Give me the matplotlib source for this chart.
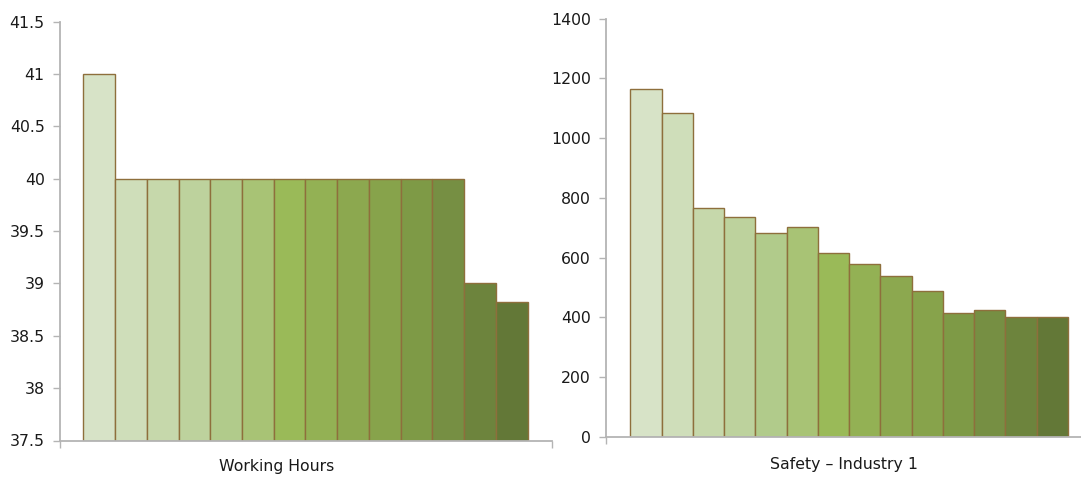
import matplotlib
matplotlib.use("Agg")
import matplotlib.pyplot as plt
import numpy as np

# Working hours per category (14 bars)
hours = [41, 40, 40, 40, 40, 40, 40, 40, 40, 40, 40, 40, 39, 38.82]
hours_ticks = [37.5, 38, 38.5, 39, 39.5, 40, 40.5, 41, 41.5]

# Safety incidents, industry 1 (14 bars)
safety = [1163, 1083, 766, 737, 681, 701, 614, 579, 537, 487, 415, 425, 400, 400]
safety_ticks = [0, 200, 400, 600, 800, 1000, 1200, 1400]

# Light-to-dark green shades, one per bar
greens = ["#d7e3c7", "#cfdeba", "#c6d8ab", "#bdd29d", "#b1cb8b", "#a8c375",
          "#9aba58", "#93b154", "#8ca84f", "#87a34b", "#7e9a46", "#768f43",
          "#6d843d", "#637837"]

edge = "#8e6f3c"
axis_grey = "#b4b4b4"
W, H = 1081, 479

plt.rcParams["font.family"] = ["DejaVu Sans"]
fig = plt.figure(figsize=(W / 100, H / 100), dpi=100)


def px_axes(x0, x1, ytop, ybot):
    return fig.add_axes([x0 / W, 1 - ybot / H, (x1 - x0) / W, (ybot - ytop) / H])


def style(ax, ymin, ymax, ticks, xlim):
    ax.set_ylim(ymin, ymax)
    ax.set_xlim(*xlim)
    ax.set_yticks(ticks)
    ax.set_yticklabels([f"{t:g}" for t in ticks])
    ax.set_xticks(list(xlim))
    ax.set_xticklabels(["", ""])
    for s in ("top", "right"):
        ax.spines[s].set_visible(False)
    for s in ("left", "bottom"):
        ax.spines[s].set_color(axis_grey)
        ax.spines[s].set_linewidth(1.3)
    ax.tick_params(axis="both", direction="out", length=5, width=1.0,
                   color=axis_grey, labelsize=11.3, labelcolor="#1a1a1a", pad=6)
    ax.spines["bottom"].set_zorder(3)


x = np.arange(len(hours))

ax1 = px_axes(60, 552, 21.7, 440.5)
ax1.bar(x, np.array(hours) - 37.5, bottom=37.5, width=1.0, color=greens,
        edgecolor=edge, linewidth=1.0, zorder=2)
style(ax1, 37.5, 41.5, hours_ticks, (-1.234, 14.266))

ax2 = px_axes(606, 1092, 18.6, 436.7)
ax2.bar(x, safety, width=1.0, color=greens, edgecolor=edge, linewidth=1.0, zorder=2)
style(ax2, 0, 1400, safety_ticks, (-1.277, 14.27))

fig.text(277 / W, 1 - 467 / H, "Working Hours", ha="center", va="center",
         fontsize=11.3, color="#1a1a1a")
fig.text(844.5 / W, 1 - 465 / H, "Safety \u2013 Industry 1", ha="center", va="center",
         fontsize=11.3, color="#1a1a1a")

fig.savefig("out.png", dpi=100)
